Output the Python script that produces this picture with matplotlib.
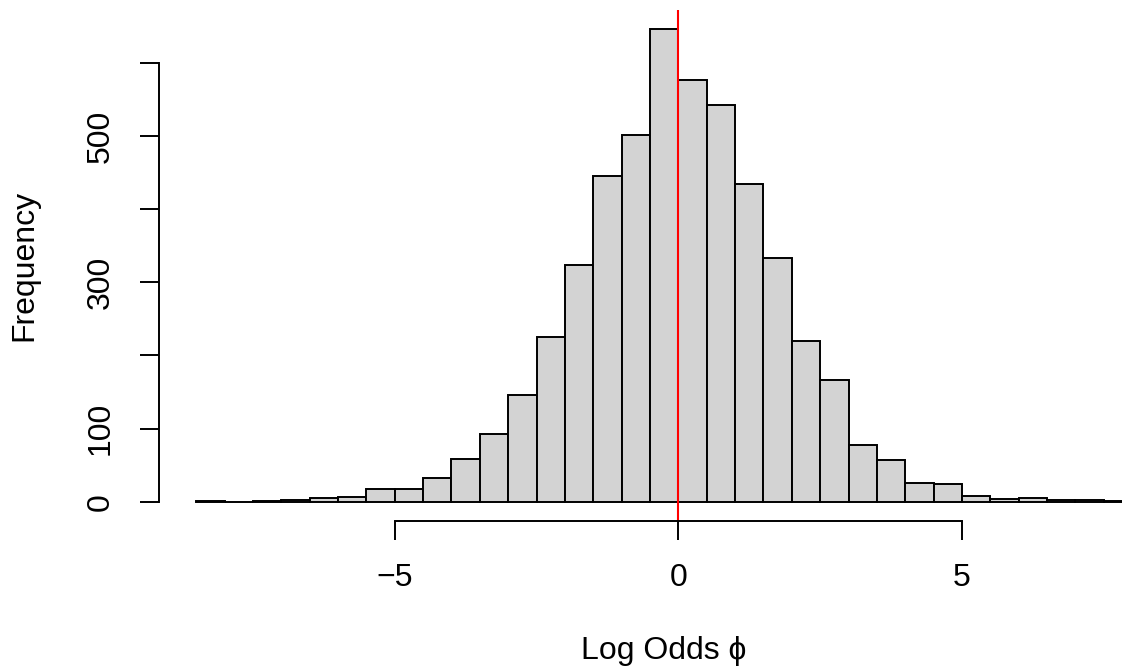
import numpy as np
import matplotlib
matplotlib.use("Agg")
import matplotlib.pyplot as plt

plt.rcParams['font.family'] = ['Liberation Sans', 'DejaVu Sans']

# Histogram of posterior log odds: bin edges (width 0.5) and counts
bin_edges = np.arange(-8.5, 8.01, 0.5)
counts = [1, 0, 1, 3, 5, 6, 17, 17, 33, 58,
          93, 146, 225, 324, 445, 501, 646, 576, 542, 434,
          333, 219, 167, 77, 57, 26, 24, 8, 4, 5,
          2, 3, 1]
x_ticks = [-5, 0, 5]
y_ticks = [0, 100, 200, 300, 400, 500, 600]
y_tick_labels = ['0', '100', '', '300', '', '500', '']
ref_line = 0

W, H = 1122, 668
fig = plt.figure(figsize=(W / 100, H / 100), dpi=100)

# plot region in pixels (extends past the right edge of the canvas)
left_px, right_px = 158.7, 1169.6
top_px, bottom_px = 10.2, 520.6
ax = fig.add_axes([left_px / W, 1 - bottom_px / H,
                   (right_px - left_px) / W, (bottom_px - top_px) / H])

rng = bin_edges[-1] - bin_edges[0]
ax.set_xlim(bin_edges[0] - 0.04 * rng, bin_edges[-1] + 0.04 * rng)
ymax = max(counts)
ax.set_ylim(-0.04 * ymax, 1.04 * ymax)

lw = 1.4
ax.bar(bin_edges[:-1], counts, width=np.diff(bin_edges), align='edge',
       color='#d3d3d3', edgecolor='black', linewidth=lw)
ax.axvline(ref_line, color='#ff0000', linewidth=1.5)

for side in ['top', 'right']:
    ax.spines[side].set_visible(False)
ax.spines['bottom'].set_bounds(x_ticks[0], x_ticks[-1])
ax.spines['left'].set_bounds(y_ticks[0], y_ticks[-1])
for side in ['bottom', 'left']:
    ax.spines[side].set_linewidth(lw)

ax.set_xticks(x_ticks)
ax.set_xticklabels(['\u22125', '0', '5'])
ax.set_yticks(y_ticks)
ax.set_yticklabels(y_tick_labels)
ax.tick_params(axis='both', direction='out', length=13.7, width=lw,
               labelsize=23)
ax.tick_params(axis='x', pad=17)
ax.tick_params(axis='y', pad=17)
for lab in ax.get_yticklabels():
    lab.set_rotation(90)
    lab.set_va('center')

fig.text(664 / W, 1 - 659 / H, 'Log Odds \u03d5', ha='center', va='baseline',
         fontsize=23)
fig.text(24 / W, 1 - 265 / H, 'Frequency', ha='center', va='center',
         rotation=90, fontsize=23)

fig.savefig('out.png', dpi=100)
